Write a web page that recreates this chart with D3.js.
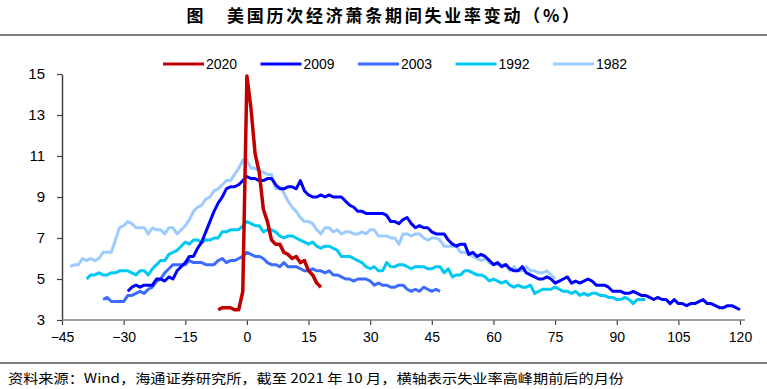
<!DOCTYPE html>
<html>
<head>
<meta charset="utf-8">
<script src="https://cdn.jsdelivr.net/npm/d3@7/dist/d3.min.js"></script>
<style>
  body { margin: 0; background: #fff; }
  text { font-family: "Liberation Sans", Arial, sans-serif; }
  .cjk { font-family: "Noto Sans CJK SC", sans-serif; }
</style>
</head>
<body>
<svg id="chart" width="767" height="389"></svg>
<script>
// unemployment rate (%), one value per month, first value at the start month
const seriesNames = ['2020', '2009', '2003', '1992', '1982'];
const startMonths = [-7, -29, -35, -39, -43];

const rate2020 = [3.5, 3.6, 3.6, 3.6, 3.5, 3.5, 4.4, 14.9,
  13.3, 11.1, 10.2, 8.4, 7.8, 6.9, 6.7, 6.7,
  6.3, 6.2, 6.0, 6.1, 5.8, 5.9, 5.4, 5.2, 4.8, 4.6];

const rate2009 = [4.4, 4.6, 4.7, 4.6, 4.7, 4.7, 4.7, 5.0,
  5.0, 4.9, 5.1, 5.0, 5.4, 5.6, 5.8, 6.1, 6.1, 6.5, 6.8, 7.3,
  7.8, 8.3, 8.7, 9.0, 9.4, 9.5, 9.5, 9.6, 9.8, 10.0, 9.9, 9.9,
  9.8, 9.8, 9.9, 9.9, 9.6, 9.4, 9.4, 9.5, 9.5, 9.4, 9.8, 9.3,
  9.1, 9.0, 9.0, 9.1, 9.0, 9.1, 9.0, 9.0, 9.0, 8.8, 8.6, 8.5,
  8.3, 8.3, 8.2, 8.2, 8.2, 8.2, 8.2, 8.1, 7.8, 7.8, 7.7, 7.9,
  8.0, 7.7, 7.5, 7.6, 7.5, 7.5, 7.3, 7.2, 7.2, 7.2, 6.9, 6.7,
  6.6, 6.7, 6.7, 6.2, 6.3, 6.1, 6.2, 6.1, 5.9, 5.7, 5.8, 5.6,
  5.7, 5.5, 5.4, 5.4, 5.6, 5.3, 5.2, 5.1, 5.0, 5.0, 5.1, 5.0,
  4.8, 4.9, 5.0, 5.1, 4.8, 4.9, 4.8, 4.9, 5.0, 4.9, 4.7, 4.7,
  4.7, 4.6, 4.4, 4.4, 4.4, 4.3, 4.3, 4.4, 4.3, 4.2, 4.2, 4.1,
  4.0, 4.1, 4.0, 4.0, 3.8, 4.0, 3.8, 3.8, 3.7, 3.8, 3.8, 3.9,
  4.0, 3.8, 3.8, 3.7, 3.6, 3.6, 3.7, 3.7, 3.6, 3.5];

const rate2003 = [4.0, 4.1, 3.9, 3.9, 3.9, 3.9,
  4.2, 4.2, 4.3, 4.4, 4.3, 4.5, 4.6, 4.9, 5.0, 5.3, 5.5, 5.7,
  5.7, 5.7, 5.7, 5.9, 5.8, 5.8, 5.8, 5.7, 5.7, 5.7, 5.9, 6.0,
  5.8, 5.9, 5.9, 6.0, 6.1, 6.3, 6.2, 6.1, 6.1, 6.0, 5.8, 5.7,
  5.7, 5.6, 5.8, 5.6, 5.6, 5.6, 5.5, 5.4, 5.4, 5.5, 5.4, 5.4,
  5.3, 5.4, 5.2, 5.2, 5.1, 5.0, 5.0, 4.9, 5.0, 5.0, 5.0, 4.9,
  4.7, 4.8, 4.7, 4.7, 4.6, 4.6, 4.7, 4.7, 4.5, 4.4, 4.5, 4.4,
  4.6, 4.5, 4.4, 4.5, 4.4];

const rate1992 = [5.0, 5.2, 5.2, 5.3, 5.2, 5.2, 5.3, 5.3, 5.4, 5.4,
  5.4, 5.3, 5.2, 5.4, 5.4, 5.2, 5.5, 5.7, 5.9, 5.9, 6.2, 6.3,
  6.4, 6.6, 6.8, 6.7, 6.9, 6.9, 6.8, 6.9, 6.9, 7.0, 7.0, 7.3,
  7.3, 7.4, 7.4, 7.4, 7.6, 7.8, 7.7, 7.6, 7.6, 7.3, 7.4, 7.4,
  7.3, 7.1, 7.0, 7.1, 7.1, 7.0, 6.9, 6.8, 6.7, 6.8, 6.6, 6.5,
  6.6, 6.6, 6.5, 6.4, 6.1, 6.1, 6.1, 6.0, 5.9, 5.8, 5.6, 5.5,
  5.6, 5.4, 5.4, 5.8, 5.6, 5.6, 5.7, 5.7, 5.6, 5.5, 5.6, 5.6,
  5.6, 5.5, 5.5, 5.6, 5.6, 5.3, 5.5, 5.1, 5.2, 5.2, 5.4, 5.4,
  5.3, 5.2, 5.2, 5.1, 4.9, 5.0, 4.9, 4.8, 4.9, 4.7, 4.6, 4.7,
  4.6, 4.6, 4.7, 4.3, 4.4, 4.5, 4.5, 4.5, 4.6, 4.5, 4.4, 4.4,
  4.3, 4.4, 4.2, 4.3, 4.2, 4.3, 4.3, 4.2, 4.2, 4.1, 4.1, 4.0,
  4.0, 4.1, 4.0, 3.8, 4.0, 4.0, 4.0];

const rate1982 = [5.6, 5.7, 5.7, 6.0, 5.9, 6.0, 5.9, 6.0,
  6.3, 6.3, 6.3, 6.9, 7.5, 7.6, 7.8, 7.7, 7.5, 7.5, 7.5, 7.2,
  7.5, 7.4, 7.4, 7.2, 7.5, 7.5, 7.2, 7.4, 7.6, 7.9, 8.3, 8.5,
  8.6, 8.9, 9.0, 9.3, 9.4, 9.6, 9.8, 9.8, 10.1, 10.4, 10.8, 10.8,
  10.4, 10.4, 10.3, 10.2, 10.1, 10.1, 9.4, 9.5, 9.2, 8.8, 8.5, 8.3,
  8.0, 7.8, 7.8, 7.7, 7.4, 7.2, 7.5, 7.5, 7.3, 7.4, 7.2, 7.3,
  7.3, 7.2, 7.2, 7.3, 7.2, 7.4, 7.4, 7.1, 7.1, 7.1, 7.0, 7.0,
  6.7, 7.2, 7.2, 7.1, 7.2, 7.2, 7.0, 6.9, 7.0, 7.0, 6.9, 6.6,
  6.6, 6.6, 6.6, 6.3, 6.3, 6.2, 6.1, 6.0, 5.9, 6.0, 5.8, 5.7,
  5.7, 5.7, 5.7, 5.4, 5.6, 5.4, 5.4, 5.6, 5.4, 5.4, 5.3, 5.3,
  5.4, 5.2, 5.0];

const xTicks = [-45, -30, -15, 0, 15, 30, 45, 60, 75, 90, 105, 120];
const yTicks = [3, 5, 7, 9, 11, 13, 15];

const titleMark = '图';
const titleText = '美国历次经济萧条期间失业率变动（%）';
const sourceText = '资料来源：Wind，海通证券研究所，截至 2021 年 10 月，横轴表示失业率高峰期前后的月份';

const colors = {
  '2020': '#c00000',
  '2009': '#0000ff',
  '2003': '#3b6bff',
  '1992': '#00c8f5',
  '1982': '#9cccff'
};

const svg = d3.select('#chart');
const allRates = [rate2020, rate2009, rate2003, rate1992, rate1982];
const series = seriesNames.map((name, i) => ({
  name: name,
  values: allRates[i].map((v, j) => ({ m: startMonths[i] + j, v: v }))
}));

const xScale = d3.scaleLinear().domain([-45, 120]).range([62, 740]);
const yScale = d3.scaleLinear().domain([3, 15]).range([320, 74]);

// title + rules
svg.append('text').attr('class', 'cjk')
  .attr('x', 195).attr('y', 22)
  .attr('text-anchor', 'middle')
  .attr('font-size', 17).attr('font-weight', 'bold')
  .attr('fill', '#000')
  .text(titleMark);
svg.append('text').attr('class', 'cjk')
  .attr('x', 227).attr('y', 22)
  .attr('font-size', 17).attr('font-weight', 'bold')
  .attr('textLength', 352).attr('lengthAdjust', 'spacing')
  .attr('fill', '#000')
  .text(titleText);
svg.append('line')
  .attr('x1', 0).attr('x2', 767).attr('y1', 35).attr('y2', 35)
  .attr('stroke', '#000').attr('stroke-width', 1.2);
svg.append('line')
  .attr('x1', 0).attr('x2', 767).attr('y1', 363).attr('y2', 363)
  .attr('stroke', '#000').attr('stroke-width', 1.2);
svg.append('text').attr('class', 'cjk')
  .attr('x', 8).attr('y', 383)
  .attr('font-size', 13)
  .attr('textLength', 616).attr('lengthAdjust', 'spacingAndGlyphs')
  .attr('fill', '#000')
  .text(sourceText);

// axes
const yAxis = d3.axisLeft(yScale).tickValues(yTicks).tickSize(5).tickSizeOuter(0);
const yG = svg.append('g').attr('transform', 'translate(62,0)').call(yAxis);
yG.select('.domain').attr('stroke', '#404040').attr('stroke-width', 1.5);
yG.selectAll('.tick line').attr('stroke', '#404040').attr('stroke-width', 1.2);
yG.selectAll('.tick text')
  .attr('font-family', '"Liberation Sans", Arial, sans-serif')
  .attr('font-size', 15).attr('fill', '#000').attr('x', -17);

const xAxis = d3.axisBottom(xScale).tickValues(xTicks).tickSize(5).tickSizeOuter(0);
const xG = svg.append('g').attr('transform', 'translate(0,320)').call(xAxis);
xG.select('.domain').remove();
xG.append('line')
  .attr('x1', xScale(-45)).attr('x2', xScale(120) + 5)
  .attr('stroke', '#808080').attr('stroke-width', 1.5);
xG.selectAll('.tick line').attr('stroke', '#404040').attr('stroke-width', 1.2);
xG.selectAll('.tick text')
  .attr('font-family', '"Liberation Sans", Arial, sans-serif')
  .attr('font-size', 14).attr('fill', '#000').attr('y', 12);

// lines, legend-first series drawn last so it sits on top
const line = d3.line()
  .x(d => xScale(d.m))
  .y(d => yScale(d.v));

svg.append('g').selectAll('path')
  .data(series.slice().reverse())
  .join('path')
  .attr('d', d => line(d.values))
  .attr('fill', 'none')
  .attr('stroke', d => colors[d.name])
  .attr('stroke-width', d => d.name === '2020' ? 3.5 : 3)
  .attr('stroke-linejoin', 'round');

// legend
const legend = svg.append('g').attr('transform', 'translate(163,64)');
const item = legend.selectAll('g')
  .data(seriesNames)
  .join('g')
  .attr('transform', (d, i) => `translate(${i * 97.5},0)`);
item.append('line')
  .attr('x1', 0).attr('x2', 41)
  .attr('stroke', d => colors[d]).attr('stroke-width', 3);
item.append('text')
  .attr('x', 43).attr('y', 5)
  .attr('font-size', 14).attr('fill', '#000')
  .text(d => d);
</script>
</body>
</html>
